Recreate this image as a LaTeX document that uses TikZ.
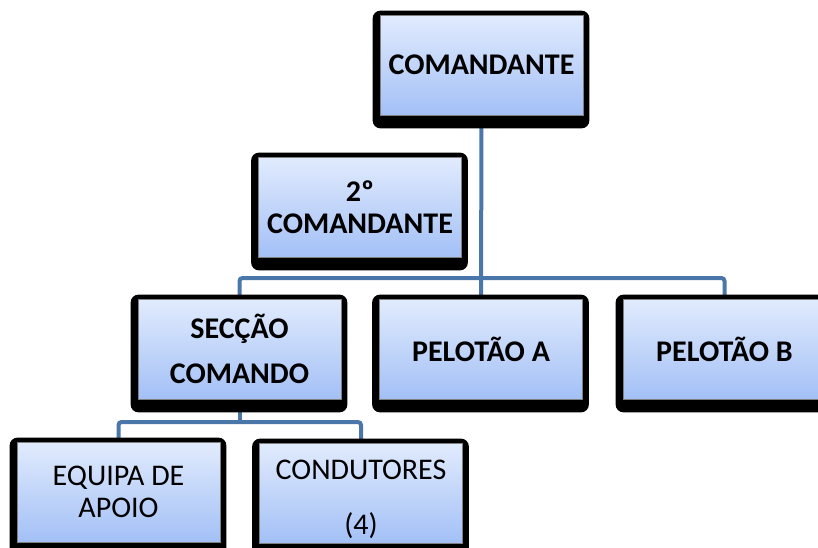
\documentclass[tikz,border=0pt]{standalone}
\usepackage{fontspec}
\setmainfont{Carlito}
\usetikzlibrary{backgrounds}

\definecolor{boxtop}{HTML}{E1EBFD}
\definecolor{boxbot}{HTML}{A3C0F6}
\definecolor{boxedge}{HTML}{7F7F7F}
\definecolor{linkblue}{HTML}{4A76AA}

\tikzset{
  unit/.style={rectangle, minimum width=203pt, minimum height=100pt,
    top color=boxtop, bottom color=boxbot, draw=boxedge, line width=0.8pt,
    align=center, inner sep=0pt, font=\fontsize{30}{32}\selectfont\bfseries},
  subunit/.style={unit, font=\fontsize{30}{32}\selectfont},
  link/.style={draw=linkblue, line width=4pt, rounded corners=3pt},
}

\begin{document}
\begin{tikzpicture}[x=1pt, y=1pt]
\useasboundingbox (0,0) rectangle (818,-547);
\clip (0,0) rectangle (818,-547);

% top of the chart
\node[unit] (cmd) at (481.5,-65) {COMANDANTE};
\node[unit] (second) at (360,-207) {2º\\COMANDANTE};

% middle row
\node[unit, font=\fontsize{30}{45}\selectfont\bfseries] (sec) at (239.5,-349) {SECÇÃO\\COMANDO};
\node[unit] (pelA) at (481,-349) {PELOTÃO A};
\node[unit] (pelB) at (724.5,-349) {PELOTÃO B};

% lower row
\node[subunit] (equipa) at (118.5,-492) {EQUIPA DE\\APOIO};
\node[subunit, font=\fontsize{30}{55}\selectfont] (cond) at (361,-493)
  {\rule{0pt}{32pt}CONDUTORES\\(4)};

% bus lines
\coordinate (top bus) at (0,-278);
\coordinate (low bus) at (0,-422);

\begin{scope}[on background layer]
% connectors
\draw[link] (cmd.south) -- (pelA.north);
\draw[link] (sec.north) |- (top bus -| pelB.north) -- (pelB.north);
\draw[link] (sec.south) -- (low bus -| sec.south);
\draw[link] (equipa.north) |- (low bus -| cond.north) -- (cond.north);
% black frames behind the boxes
\foreach \n in {cmd, second, sec, pelA, pelB, equipa, cond}
  \fill[black, rounded corners=8pt]
    ([shift={(-7pt,4pt)}]\n.north west) rectangle ([shift={(6pt,-13pt)}]\n.south east);
\end{scope}

\end{tikzpicture}
\end{document}
